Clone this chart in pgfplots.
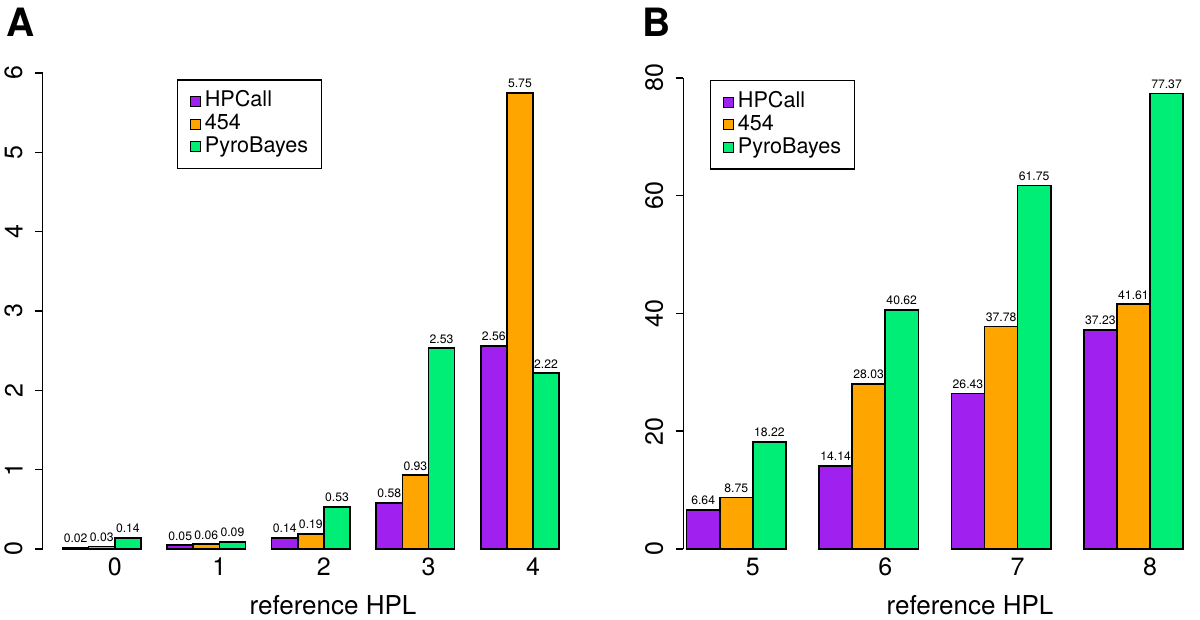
\documentclass[border=0pt]{standalone}
\usepackage{pgfplots}
\pgfplotsset{compat=1.18}
\usepackage{fontspec}
\setmainfont{TeX Gyre Heros}
\setsansfont{TeX Gyre Heros}
\definecolor{cHP}{HTML}{A020F0}
\definecolor{cFF}{HTML}{FFA500}
\definecolor{cPB}{HTML}{00EE76}

\pgfplotsset{
 rpanel/.style={
  scale only axis, clip=false, enlargelimits=false,
  axis lines*=left, separate axis lines,
  x axis line style={draw=none},
  y axis line style={line width=0.75pt},
  xtick style={draw=none},
  ytick style={line width=0.75pt, black},
  tick align=outside, major tick length=3.85pt,
  xtick pos=bottom, ytick pos=left,
  /pgf/number format/assume math mode=true,
  tick label style={font=\fontsize{12.5}{14}\selectfont},
  yticklabel style={rotate=90, anchor=south, inner sep=0pt, yshift=6pt},
  xticklabel style={anchor=north, inner sep=0pt, yshift=-0.5pt},
  xlabel style={anchor=base, yshift=-33pt, font=\fontsize{13}{15}\selectfont},
  point meta=y,
  nodes near coords={\pgfmathprintnumber[fixed,fixed zerofill,precision=2]{\pgfplotspointmeta}},
  every node near coord/.append style={font=\fontsize{6.1}{7}\selectfont, text=black, anchor=south, inner sep=0pt, yshift=2pt},
  legend cell align=left,
  legend style={draw=black, line width=0.7pt, font=\fontsize{10.8}{12}\selectfont, anchor=north west,
    inner xsep=6pt, inner ysep=5pt, row sep=0pt,
    nodes={text height=7.8pt, text depth=2.4pt, inner sep=0.6pt}},
 },
 rbar/.style={ybar, bar width=1, bar shift=0pt, draw=black, line width=0.8pt, fill=#1,
  legend image code/.code={\draw[fill=#1, draw=black, line width=0.5pt] (0pt,-2.5pt) rectangle (5pt,2.5pt);}},
}

\begin{document}
\begin{tikzpicture}
\useasboundingbox (0,0) rectangle (600pt,310pt);
\begin{axis}[rpanel, at={(21.35pt,35.5pt)}, anchor=south west,
  width=268.15pt, height=238pt,
  xmin=0.24, xmax=20.76, ymin=0, ymax=6, ytick={0,1,2,3,4,5,6},
  xtick={3,7,11,15,19}, xticklabels={0,1,2,3,4},
  xlabel={reference HPL}, xlabel style={at={(axis description cs:0.5413,0)}},
  legend style={at={(0.2504,0.987)}}]
\addplot[rbar=cHP] coordinates {(1.5,0.02) (5.5,0.05) (9.5,0.14) (13.5,0.58) (17.5,2.56)};
\addlegendentry{\hspace{1.5pt}HPCall}
\addplot[rbar=cFF] coordinates {(2.5,0.03) (6.5,0.06) (10.5,0.19) (14.5,0.93) (18.5,5.75)};
\addlegendentry{\hspace{1.5pt}454}
\addplot[rbar=cPB] coordinates {(3.5,0.14) (7.5,0.09) (11.5,0.53) (15.5,2.53) (19.5,2.22)};
\addlegendentry{\hspace{1.5pt}PyroBayes}
\end{axis}
\begin{axis}[rpanel, at={(341.65pt,35.5pt)}, anchor=south west,
  width=268.1pt, height=235.5pt,
  xmin=0.4, xmax=16.6, ymin=0, ymax=80, ytick={0,20,40,60,80},
  xtick={2.5,6.5,10.5,14.5}, xticklabels={5,6,7,8},
  xlabel={reference HPL}, xlabel style={at={(axis description cs:0.5347,0)}},
  legend style={at={(0.0498,0.9958)}}]
\addplot[rbar=cHP] coordinates {(1,6.64) (5,14.14) (9,26.43) (13,37.23)};
\addlegendentry{\hspace{1.5pt}HPCall}
\addplot[rbar=cFF] coordinates {(2,8.75) (6,28.03) (10,37.78) (14,41.61)};
\addlegendentry{\hspace{1.5pt}454}
\addplot[rbar=cPB] coordinates {(3,18.22) (7,40.62) (11,61.75) (15,77.37)};
\addlegendentry{\hspace{1.5pt}PyroBayes}
\end{axis}
\node[anchor=base west, inner sep=0pt, font=\bfseries\fontsize{19.5}{22}\selectfont] at (3pt,291.5pt) {A};
\node[anchor=base west, inner sep=0pt, font=\bfseries\fontsize{19.5}{22}\selectfont] at (320.8pt,291.5pt) {B};
\end{tikzpicture}
\end{document}
